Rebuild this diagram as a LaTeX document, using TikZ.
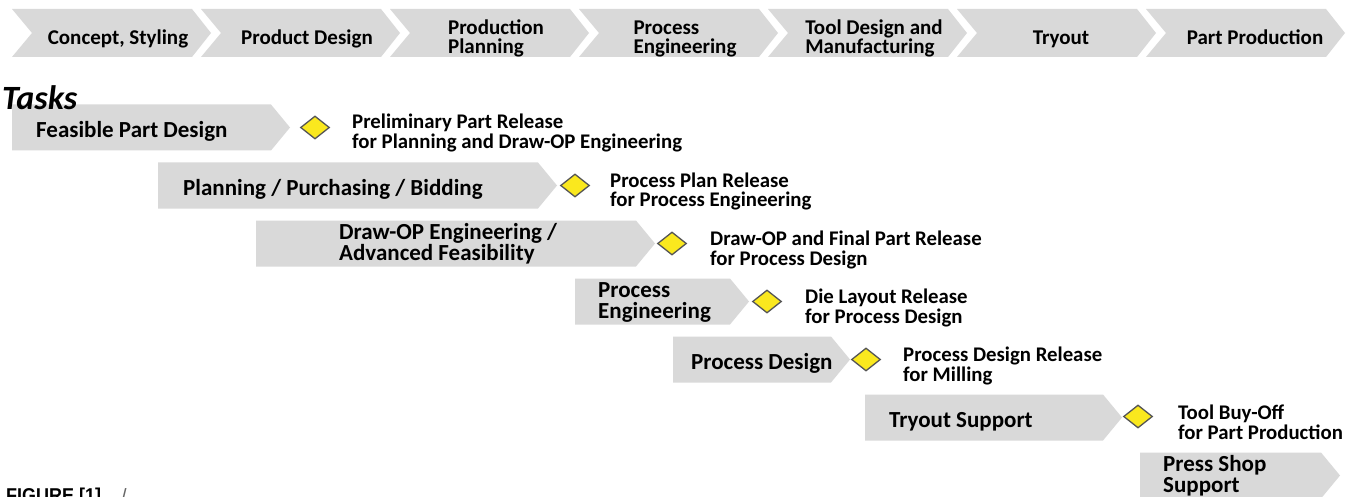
\documentclass[tikz,border=0pt]{standalone}
\usepackage{xcolor}
\usepackage{fontspec}
\setmainfont{Carlito}
\newfontfamily\capfont[FakeStretch=0.9]{Liberation Sans}
\usetikzlibrary{shapes.geometric}
\definecolor{barGray}{HTML}{D9D9D9}
\definecolor{mileYellow}{HTML}{FAE81E}
\definecolor{mileEdge}{HTML}{555555}

% phase chevron of the header row, #1 = left edge
\newcommand\hdchev[1]{%
  \fill[barGray] (#1,9) -- (#1+180,9) -- (#1+199,33) -- (#1+180,57) -- (#1,57) -- (#1+20,33) -- cycle;}
% task bar with flat tail and pointed head: #1 left, #2 tip, #3 centre line
\newcommand\taskbar[3]{%
  \fill[barGray] (#1,#3-23) -- (#2-19,#3-23) -- (#2,#3) -- (#2-19,#3+23) -- (#1,#3+23) -- cycle;}
% two left-aligned lines, baseline of the box = baseline of the first line
\newcommand\twolines[3]{\vtop{\baselineskip=#1\lineskiplimit=-50pt\hbox{#2}\hbox{#3}}}

\begin{document}
\begin{tikzpicture}[x=1pt,y=-1pt,
  hdtext/.style={font=\fontsize{21}{19}\selectfont\bfseries, inner sep=0pt, anchor=base},
  tasktext/.style={font=\fontsize{23}{21}\selectfont\bfseries, inner sep=0pt, anchor=base west},
  miletext/.style={font=\fontsize{20.8}{20}\selectfont\bfseries, inner sep=0pt, anchor=base west},
  milestone/.style={diamond, draw=mileEdge, line width=1.3pt, fill=mileYellow,
    minimum width=29pt, minimum height=23pt, inner sep=0pt}]
\useasboundingbox (0,0) rectangle (1348,497);
\fill[white] (0,0) rectangle (1348,497);
\clip (0,0) rectangle (1348,497);

% ---- phases ----
\foreach \i in {0,...,6} { \hdchev{12+189*\i} }
\node[hdtext] (h1) at (118,45) {Concept, Styling};
\node[hdtext] (h2) at (307,45) {Product Design};
\node[hdtext] (h3) at (496,35) {\twolines{19pt}{Production}{Planning}};
\node[hdtext] (h4) at (685,35) {\twolines{19pt}{Process}{Engineering}};
\node[hdtext] (h5) at (874,35) {\twolines{19pt}{Tool Design and}{Manufacturing}};
\node[hdtext] (h6) at (1061,45) {Tryout};
\node[hdtext] (h7) at (1255,45) {Part Production};

% ---- task bars ----
\taskbar{12}{290}{127.5}
\taskbar{158}{557}{185.5}
\taskbar{256}{655}{243.5}
\taskbar{575}{749}{301.5}
\taskbar{673}{850}{359.5}
\taskbar{865}{1122}{417.5}
\taskbar{1140}{1340}{475.5}

% ---- tasks heading, lying over the first bar ----
\node[font=\fontsize{34}{34}\selectfont\bfseries\itshape, inner sep=0pt, anchor=base west]
  (tasks) at (2,110) {Tasks};

\node[tasktext] (t1) at (36,137.5) {Feasible Part Design};
\node[tasktext] (t2) at (183,195.5) {Planning / Purchasing / Bidding};
\node[tasktext] (t3) at (339,239.5) {\twolines{21pt}{Draw-OP Engineering /}{Advanced Feasibility}};
\node[tasktext] (t4) at (598,297.5) {\twolines{21pt}{Process}{Engineering}};
\node[tasktext] (t5) at (691,369.5) {Process Design};
\node[tasktext] (t6) at (889,427.5) {Tryout Support};
\node[tasktext] (t7) at (1163,471.5) {\twolines{21pt}{Press Shop}{Support}};

% ---- milestones ----
\node[milestone] (m1) at (315,127.5) {};
\node[milestone] (m2) at (575,185.5) {};
\node[milestone] (m3) at (672,243.5) {};
\node[milestone] (m4) at (767,301.5) {};
\node[milestone] (m5) at (866,359.5) {};
\node[milestone] (m6) at (1138,416.5) {};

\node[miletext] (r1) at (352,129) {\twolines{20pt}{Preliminary Part Release}{for Planning and Draw-OP Engineering}};
\node[miletext] (r2) at (610,187) {\twolines{20pt}{Process Plan Release}{for Process Engineering}};
\node[miletext] (r3) at (710,245) {\twolines{20pt}{Draw-OP and Final Part Release}{for Process Design}};
\node[miletext] (r4) at (805,303) {\twolines{20pt}{Die Layout Release}{for Process Design}};
\node[miletext] (r5) at (903,361) {\twolines{20pt}{Process Design Release}{for Milling}};
\node[miletext] (r6) at (1178,419) {\twolines{20pt}{Tool Buy-Off}{for Part Production}};

% ---- caption, cut by the lower edge ----
\node[font=\capfont\fontsize{20}{20}\selectfont\bfseries, inner sep=0pt, anchor=base west]
  (cap) at (6,502.5) {FIGURE [1]};
\node[font=\capfont\fontsize{22}{22}\selectfont, text=black!60, inner sep=0pt, anchor=base west]
  (capsep) at (121,504) {/};
\end{tikzpicture}
\end{document}
